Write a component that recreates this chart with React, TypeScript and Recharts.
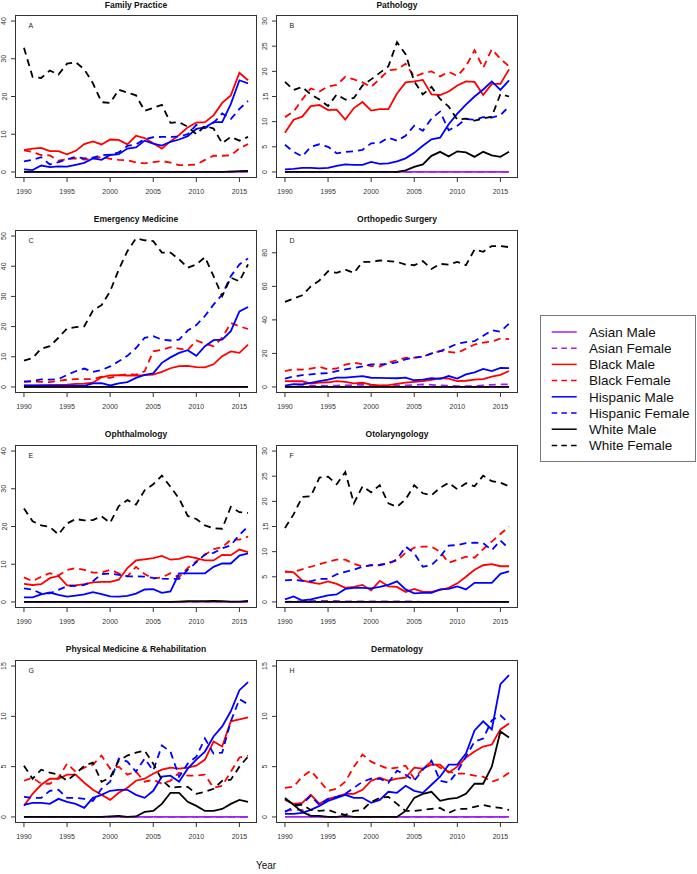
import { LineChart, Line, XAxis, YAxis } from 'recharts';

const FONT = '"Liberation Sans", Arial, sans-serif';

// years on the x axis
const YEARS = [1990, 1991, 1992, 1993, 1994, 1995, 1996, 1997, 1998, 1999, 2000, 2001, 2002, 2003, 2004, 2005, 2006, 2007, 2008, 2009, 2010, 2011, 2012, 2013, 2014, 2015, 2016];
const X_TICKS = [1990, 1995, 2000, 2005, 2010, 2015];

const ZERO = [0, 0, 0, 0, 0, 0, 0, 0, 0, 0, 0, 0, 0, 0, 0, 0, 0, 0, 0, 0, 0, 0, 0, 0, 0, 0, 0];

// A - Family Practice
const A_AF = [0, 0, 0, 0, 0, 0, 0, 0, 0, 0, 0, 0, 0, 0, 0, 0, 0, 0, 0, 0, 0, 0, 0, 0, 0.1, 0.1, 0.2];
const A_BM = [5.8, 6.2, 6.4, 5.5, 5.5, 4.7, 5.6, 7.4, 8.1, 7.3, 8.6, 8.5, 7.3, 9.6, 9.0, 7.6, 6.2, 8.1, 9.8, 11.8, 13.1, 13.2, 15.0, 18.3, 20.3, 26.3, 24.3];
const A_BF = [5.7, 5.3, 4.5, 4.4, 3.0, 3.4, 3.6, 3.3, 3.5, 4.0, 3.5, 3.2, 3.1, 2.5, 2.3, 2.6, 2.9, 2.5, 1.8, 1.8, 2.0, 3.2, 4.3, 4.3, 4.4, 6.2, 7.4];
const A_HM = [0.7, 0.5, 1.7, 1.3, 1.5, 1.4, 1.9, 2.4, 3.6, 3.2, 4.5, 4.7, 6.2, 6.5, 8.3, 7.5, 7.0, 8.0, 8.6, 9.5, 11.4, 11.8, 13.2, 13.2, 18.0, 24.3, 23.5];
const A_HF = [2.8, 3.2, 3.9, 2.0, 2.6, 3.3, 4.0, 3.6, 3.8, 4.4, 4.6, 5.2, 6.9, 7.3, 8.7, 9.2, 9.3, 9.3, 9.4, 10.0, 12.5, 11.6, 13.0, 15.5, 14.0, 16.7, 18.8];
const A_WM = [0, 0, 0, 0, 0, 0, 0, 0, 0, 0, 0, 0, 0, 0, 0, 0, 0, 0, 0, 0, 0, 0, 0, 0, 0.1, 0.2, 0.3];
const A_WF = [32.9, 25.2, 24.9, 26.9, 25.8, 28.7, 29.1, 27.2, 23.5, 18.5, 18.3, 21.8, 21.0, 20.3, 16.2, 17.0, 17.8, 13.0, 13.2, 12.0, 10.0, 12.2, 11.5, 7.6, 9.3, 8.3, 9.3];

// B - Pathology
const B_BM = [7.8, 10.4, 11.0, 13.1, 13.3, 12.3, 12.4, 10.4, 12.7, 13.9, 12.2, 12.5, 12.5, 15.6, 17.8, 18.0, 18.3, 15.4, 15.3, 16.0, 17.2, 18.0, 17.9, 15.3, 17.5, 17.5, 20.4];
const B_BF = [10.9, 12.0, 14.4, 16.6, 16.0, 17.0, 17.3, 18.9, 18.4, 17.8, 16.9, 18.5, 20.2, 20.4, 21.5, 18.9, 19.6, 20.0, 19.0, 19.9, 19.1, 21.0, 24.2, 20.7, 24.4, 22.5, 21.0];
const B_HM = [0.5, 0.6, 0.8, 0.8, 0.7, 0.8, 1.2, 1.5, 1.4, 1.4, 2.0, 1.6, 1.7, 2.1, 2.7, 3.8, 5.2, 6.5, 6.8, 9.5, 11.6, 13.4, 15.0, 16.4, 18.0, 16.3, 18.2];
const B_HF = [5.4, 4.0, 3.1, 5.0, 5.5, 5.0, 3.7, 4.0, 4.1, 4.4, 5.7, 5.8, 6.8, 6.2, 7.2, 9.2, 8.2, 10.6, 12.0, 8.3, 9.2, 10.5, 10.4, 10.9, 10.8, 11.3, 13.0];
const B_WM = [0, 0, 0, 0, 0, 0, 0, 0, 0, 0, 0, 0, 0, 0, 0.3, 1.0, 1.5, 3.2, 4.0, 3.1, 4.1, 3.9, 3.0, 4.0, 3.3, 3.0, 4.0];
const B_WF = [17.9, 16.3, 16.9, 15.4, 14.4, 13.1, 15.4, 14.4, 14.7, 17.2, 18.4, 19.7, 21.0, 25.8, 23.4, 18.0, 15.4, 16.9, 14.5, 13.0, 10.4, 10.6, 10.2, 10.6, 11.0, 15.5, 15.0];

// C - Emergency Medicine
const C_BM = [0.4, 0.4, 0.5, 0.6, 0.7, 0.8, 1.0, 1.1, 1.4, 3.2, 3.8, 3.9, 3.8, 3.8, 3.9, 4.1, 5.0, 6.2, 6.9, 7.0, 6.6, 6.5, 7.5, 10.2, 11.8, 11.3, 14.0];
const C_BF = [1.8, 1.8, 1.7, 1.6, 2.0, 2.4, 2.6, 2.6, 2.6, 3.4, 3.0, 3.8, 4.2, 4.1, 5.2, 11.8, 12.3, 13.2, 12.7, 12.2, 15.4, 14.3, 13.5, 16.3, 21.2, 20.1, 19.2];
const C_HM = [0.5, 0.5, 0.5, 0.5, 0.4, 0.4, 0.4, 0.4, 1.2, 1.3, 0.5, 1.2, 1.6, 3.0, 4.0, 4.5, 8.0, 9.8, 11.3, 12.2, 10.3, 13.5, 15.5, 15.7, 18.5, 25.0, 26.5];
const C_HF = [1.8, 2.0, 2.5, 2.4, 2.6, 4.0, 5.2, 6.1, 5.0, 5.6, 6.8, 8.5, 10.3, 12.9, 16.3, 16.8, 15.7, 15.4, 15.7, 18.7, 20.5, 23.5, 27.3, 30.6, 36.7, 40.6, 42.6];
const C_WF = [8.7, 9.6, 12.7, 13.5, 16.3, 19.4, 19.8, 20.1, 25.3, 27.1, 31.7, 38.9, 45.0, 49.2, 48.6, 48.3, 44.5, 44.5, 42.3, 39.5, 40.6, 43.0, 36.7, 30.1, 36.2, 35.0, 40.6];

// D - Orthopedic Surgery
const D_AF = [0, 0.3, 0.5, 0.7, 0.8, 0.7, 0.8, 1.0, 1.2, 1.2, 1.0, 0.8, 0.8, 1.0, 1.0, 1.2, 1.5, 1.3, 1.0, 0.8, 0.5, 0.5, 0.5, 1.0, 1.3, 1.5, 1.5];
const D_BM = [3.5, 3.4, 3.4, 2.0, 2.6, 2.8, 3.5, 3.0, 2.1, 2.5, 1.4, 1.0, 1.1, 1.8, 2.6, 3.0, 3.5, 4.3, 5.3, 5.0, 3.5, 3.7, 4.4, 4.7, 6.2, 7.2, 9.5];
const D_BF = [9.5, 10.5, 10.3, 11.0, 12.0, 10.5, 11.0, 13.3, 14.5, 13.5, 12.5, 12.2, 14.5, 16.0, 17.4, 17.5, 18.2, 19.8, 21.5, 20.9, 20.3, 22.8, 25.3, 26.5, 27.0, 28.8, 28.5];
const D_HM = [0.8, 1.7, 1.5, 2.5, 3.5, 4.4, 5.6, 5.6, 6.0, 6.5, 5.5, 5.4, 5.3, 5.2, 5.6, 4.0, 4.4, 5.2, 4.8, 6.5, 5.0, 7.5, 8.7, 10.8, 9.5, 11.3, 11.2];
const D_HF = [5.0, 6.2, 7.0, 7.5, 8.0, 8.3, 9.5, 10.5, 11.3, 12.3, 13.5, 13.5, 13.6, 14.8, 16.5, 17.5, 18.0, 20.0, 21.3, 23.5, 25.8, 26.8, 27.3, 30.5, 33.8, 33.0, 37.7];
const D_WF = [50.7, 52.7, 54.7, 60.0, 63.5, 69.0, 68.0, 70.0, 68.0, 74.6, 74.6, 75.4, 75.0, 74.6, 73.0, 72.6, 75.0, 70.4, 73.4, 73.0, 74.6, 72.6, 82.0, 80.6, 84.0, 84.0, 83.4];

// E - Ophthalmology
const E_BM = [4.8, 4.5, 4.7, 6.3, 6.9, 4.4, 4.4, 4.7, 5.2, 5.3, 5.3, 5.9, 9.0, 11.0, 11.3, 11.6, 12.2, 11.2, 11.4, 12.1, 11.6, 11.0, 11.0, 12.5, 12.4, 13.9, 13.2];
const E_BF = [6.5, 5.5, 6.7, 7.6, 7.0, 8.5, 9.0, 8.5, 7.8, 7.8, 8.5, 7.6, 6.8, 9.3, 7.4, 6.2, 6.5, 7.6, 6.6, 9.0, 10.8, 12.5, 14.0, 14.5, 16.5, 16.5, 17.3];
const E_HM = [1.2, 1.2, 2.0, 2.5, 1.9, 1.4, 1.7, 2.0, 2.6, 2.1, 1.5, 1.4, 1.6, 2.2, 3.3, 3.4, 2.4, 2.8, 7.6, 7.6, 7.6, 7.6, 9.3, 10.2, 10.2, 12.3, 12.9];
const E_HF = [3.6, 3.3, 2.2, 2.3, 3.2, 4.2, 4.3, 4.5, 5.5, 7.4, 7.5, 7.2, 6.8, 6.8, 6.7, 6.4, 6.2, 6.1, 6.1, 8.5, 10.5, 12.6, 13.0, 14.2, 15.0, 17.8, 20.0];
const E_WM = [0, 0, 0, 0, 0, 0, 0, 0, 0, 0, 0, 0, 0, 0, 0, 0, 0, 0, 0.1, 0.2, 0.2, 0.2, 0.3, 0.2, 0.1, 0.1, 0.3];
const E_WF = [24.8, 21.4, 20.3, 19.9, 17.9, 20.8, 22.0, 21.6, 21.7, 22.7, 21.0, 25.4, 27.0, 25.8, 29.6, 31.2, 33.5, 30.5, 27.4, 22.8, 22.0, 20.3, 19.5, 19.4, 25.2, 23.8, 23.6];

// F - Otolaryngology
const F_AF = [0, 0.1, 0.1, 0.2, 0.2, 0.2, 0.2, 0.1, 0.1, 0.1, 0.1, 0.1, 0.1, 0.1, 0.1, 0.1, 0, 0, 0, 0, 0, 0, 0, 0, 0, 0, 0];
const F_BM = [6.1, 5.9, 4.3, 3.9, 3.6, 4.1, 3.6, 2.8, 3.0, 3.4, 2.3, 4.2, 3.1, 3.0, 2.0, 2.6, 2.0, 2.0, 2.4, 2.8, 3.7, 5.0, 6.4, 7.3, 7.5, 7.1, 7.1];
const F_BF = [6.0, 6.0, 6.5, 7.0, 7.5, 8.0, 8.4, 8.4, 7.6, 7.0, 7.3, 7.3, 7.8, 8.2, 9.8, 10.8, 11.0, 11.0, 10.0, 7.8, 8.4, 9.0, 8.8, 10.5, 12.0, 13.5, 15.0];
const F_HM = [0.5, 1.1, 0.3, 0.5, 0.9, 1.3, 1.5, 2.6, 2.8, 2.8, 2.7, 3.0, 3.4, 4.1, 2.5, 1.7, 1.8, 1.8, 2.5, 2.6, 3.1, 2.5, 3.8, 3.8, 3.8, 5.6, 6.1];
const F_HF = [4.3, 4.4, 4.2, 4.1, 4.6, 4.6, 5.5, 6.0, 6.4, 7.0, 7.3, 7.4, 7.6, 8.5, 11.0, 9.7, 7.0, 7.3, 9.0, 11.2, 11.3, 11.7, 11.8, 11.7, 10.3, 12.2, 10.6];
const F_WF = [14.7, 17.4, 20.9, 21.0, 24.7, 24.9, 23.4, 25.8, 19.6, 23.0, 21.8, 23.2, 19.6, 18.9, 20.4, 23.2, 21.6, 21.2, 22.7, 23.7, 22.4, 23.6, 23.0, 25.1, 24.0, 23.7, 23.0];

// G - Physical Medicine & Rehabilitation
const G_BM = [1.1, 2.3, 3.2, 3.8, 3.8, 4.2, 4.2, 3.4, 2.7, 2.2, 1.7, 2.4, 2.9, 3.6, 3.8, 4.3, 4.7, 4.9, 4.8, 4.9, 5.1, 5.7, 7.5, 7.0, 9.5, 9.7, 9.9];
const G_BF = [3.6, 3.9, 3.3, 3.3, 3.9, 5.3, 4.5, 4.9, 5.2, 6.1, 4.8, 5.0, 4.2, 4.5, 3.5, 3.7, 3.3, 3.6, 4.4, 4.1, 4.1, 4.2, 2.9, 3.1, 4.5, 5.9, 6.1];
const G_HM = [1.2, 1.4, 1.4, 1.3, 1.8, 1.5, 1.3, 0.9, 1.9, 2.2, 2.6, 2.7, 2.7, 2.2, 1.9, 2.6, 4.0, 4.1, 3.5, 4.8, 5.7, 6.5, 8.0, 9.0, 10.5, 12.6, 13.4];
const G_HF = [2.0, 1.9, 1.9, 2.6, 2.7, 1.9, 1.9, 1.8, 1.6, 2.8, 3.5, 5.8, 5.5, 4.5, 5.8, 4.6, 7.1, 6.5, 4.0, 5.3, 6.0, 7.8, 6.3, 6.4, 9.5, 11.7, 11.2];
const G_WM = [0, 0, 0, 0, 0, 0, 0, 0, 0, 0, 0.05, 0.1, 0, 0.05, 0.5, 0.6, 1.3, 2.4, 2.4, 1.5, 1.1, 0.6, 0.6, 0.8, 1.3, 1.7, 1.5];
const G_WF = [5.1, 3.8, 4.7, 4.4, 4.2, 3.6, 4.3, 5.1, 5.4, 3.5, 3.9, 5.6, 6.1, 6.4, 6.6, 5.3, 3.7, 2.9, 3.0, 3.0, 2.3, 2.5, 2.8, 3.6, 3.7, 5.0, 6.0];

// H - Dermatology
const H_AF = [0.6, 0.7, 0.7, 0.1, 0, 0, 0, 0, 0, 0, 0, 0, 0, 0, 0, 0, 0, 0, 0, 0, 0, 0, 0, 0, 0, 0, 0];
const H_BM = [1.7, 1.3, 1.4, 2.2, 1.3, 1.8, 2.0, 2.3, 2.3, 2.7, 3.6, 3.9, 3.6, 3.8, 3.9, 4.9, 4.8, 5.2, 5.2, 4.4, 5.0, 5.9, 6.5, 7.0, 7.2, 8.7, 9.3];
const H_BF = [2.9, 3.0, 4.0, 4.6, 3.6, 2.6, 2.8, 3.5, 5.0, 6.2, 5.5, 5.1, 4.8, 4.9, 5.1, 3.8, 4.8, 5.5, 4.9, 4.5, 4.3, 4.3, 4.1, 4.0, 3.5, 3.8, 4.4];
const H_HM = [0.3, 0.3, 0.4, 0.7, 1.1, 1.6, 1.9, 2.2, 1.9, 1.9, 1.4, 1.7, 2.5, 2.4, 3.1, 2.6, 2.4, 3.2, 4.0, 5.2, 5.2, 6.3, 8.6, 9.5, 8.7, 13.2, 14.1];
const H_HF = [0.5, 1.0, 1.3, 2.1, 1.2, 1.8, 2.0, 2.3, 2.9, 3.5, 3.8, 3.8, 3.4, 4.6, 4.2, 3.6, 4.7, 5.6, 3.6, 3.4, 4.5, 6.0, 7.5, 7.8, 9.6, 10.1, 9.3];
const H_WM = [1.9, 1.2, 0.5, 0.1, 0.1, 0, 0, 0.1, 0, 0, 0, 0, 0, 0, 0.6, 1.9, 2.3, 2.5, 1.6, 1.8, 1.9, 2.3, 3.3, 3.3, 5.0, 8.5, 7.9];
const H_WF = [1.8, 1.2, 1.2, 0.7, 0.6, 0.7, 0.4, 0.2, 0.6, 0.7, 1.5, 1.9, 2.0, 1.3, 0.6, 0.6, 0.7, 0.8, 0.9, 0.4, 0.8, 0.8, 1.0, 1.2, 1.0, 0.9, 0.7];

// y tick labels per panel
const TICKS_40 = [0, 10, 20, 30, 40];
const TICKS_30 = [0, 5, 10, 15, 20, 25, 30];
const TICKS_50 = [0, 10, 20, 30, 40, 50];
const TICKS_80 = [0, 20, 40, 60, 80];
const TICKS_15 = [0, 5, 10, 15];

const SERIES = [
  { name: 'Asian Male', color: '#A020F0', dashed: false },
  { name: 'Asian Female', color: '#A020F0', dashed: true },
  { name: 'Black Male', color: '#FF0000', dashed: false },
  { name: 'Black Female', color: '#FF0000', dashed: true },
  { name: 'Hispanic Male', color: '#0000FF', dashed: false },
  { name: 'Hispanic Female', color: '#0000FF', dashed: true },
  { name: 'White Male', color: '#000000', dashed: false },
  { name: 'White Female', color: '#000000', dashed: true },
];

const PANELS = [
  { letter: 'A', title: 'Family Practice', max: 40, ticks: TICKS_40, col: 0, row: 0, values: [ZERO, A_AF, A_BM, A_BF, A_HM, A_HF, A_WM, A_WF] },
  { letter: 'B', title: 'Pathology', max: 30, ticks: TICKS_30, col: 1, row: 0, values: [ZERO, ZERO, B_BM, B_BF, B_HM, B_HF, B_WM, B_WF] },
  { letter: 'C', title: 'Emergency Medicine', max: 50, ticks: TICKS_50, col: 0, row: 1, values: [ZERO, ZERO, C_BM, C_BF, C_HM, C_HF, ZERO, C_WF] },
  { letter: 'D', title: 'Orthopedic Surgery', max: 90, ticks: TICKS_80, col: 1, row: 1, values: [ZERO, D_AF, D_BM, D_BF, D_HM, D_HF, ZERO, D_WF] },
  { letter: 'E', title: 'Ophthalmology', max: 40, ticks: TICKS_40, col: 0, row: 2, values: [ZERO, ZERO, E_BM, E_BF, E_HM, E_HF, E_WM, E_WF] },
  { letter: 'F', title: 'Otolaryngology', max: 30, ticks: TICKS_30, col: 1, row: 2, values: [ZERO, F_AF, F_BM, F_BF, F_HM, F_HF, ZERO, F_WF] },
  { letter: 'G', title: 'Physical Medicine & Rehabilitation', max: 15, ticks: TICKS_15, col: 0, row: 3, values: [ZERO, ZERO, G_BM, G_BF, G_HM, G_HF, G_WM, G_WF] },
  { letter: 'H', title: 'Dermatology', max: 15, ticks: TICKS_15, col: 1, row: 3, values: [ZERO, H_AF, H_BM, H_BF, H_HM, H_HF, H_WM, H_WF] },
];

// layout (px)
const CHART_W = 262;
const CHART_H = 208;
const TOP_PAD = 15;
const X_AXIS_H = 30;
const ROW_STEP = 215;
const COLS = [
  { left: 0, yWidth: 15, right: 5 },
  { left: 258, yWidth: 18, right: 2 },
];
const PLOT_H = CHART_H - TOP_PAD - X_AXIS_H;

function YTick(props: any) {
  const { x, y, payload } = props;
  return (
    <text x={x} y={y} transform={`rotate(-90 ${x} ${y})`} textAnchor="middle" fontSize={7} fill="#333" fontFamily={FONT}>
      {payload.value}
    </text>
  );
}

function Panel({ panel }: { panel: (typeof PANELS)[number] }) {
  const col = COLS[panel.col];
  const top = panel.row * ROW_STEP;
  const plotLeft = col.left + col.yWidth;
  const plotW = CHART_W - col.yWidth - col.right;
  const plotTop = top + TOP_PAD;
  const pad = 0.04 * panel.max;

  const rows = YEARS.map((year, i) => {
    const row: Record<string, number> = { year };
    panel.values.forEach((arr, k) => {
      row[`s${k}`] = arr[i];
    });
    return row;
  });

  return (
    <>
      <div style={{ position: 'absolute', left: col.left, top }}>
        <LineChart width={CHART_W} height={CHART_H} data={rows} margin={{ top: TOP_PAD, right: col.right, bottom: 0, left: 0 }}>
          <XAxis
            dataKey="year"
            type="number"
            domain={[1990 - 0.04 * 26, 2016 + 0.04 * 26]}
            ticks={X_TICKS}
            allowDataOverflow
            height={X_AXIS_H}
            axisLine={false}
            tickLine={{ stroke: '#333' }}
            tickSize={4}
            tickMargin={7}
            tick={{ fontSize: 7, fill: '#333', fontFamily: FONT }}
            interval={0}
          />
          <YAxis
            type="number"
            domain={[-pad, panel.max + pad]}
            ticks={panel.ticks}
            allowDataOverflow
            width={col.yWidth}
            axisLine={false}
            tickLine={{ stroke: '#333' }}
            tickSize={4}
            tickMargin={4.5}
            tick={<YTick />}
            interval={0}
          />
          {SERIES.map((s, k) => (
            <Line
              key={s.name}
              dataKey={`s${k}`}
              type="linear"
              stroke={s.color}
              strokeWidth={1.8}
              strokeDasharray={s.dashed ? '7 5' : undefined}
              dot={false}
              activeDot={false}
              isAnimationActive={false}
            />
          ))}
        </LineChart>
      </div>
      <div
        style={{
          position: 'absolute',
          left: plotLeft,
          top: plotTop,
          width: plotW,
          height: PLOT_H,
          boxSizing: 'border-box',
          border: '1px solid #333',
          pointerEvents: 'none',
        }}
      />
      <div
        style={{
          position: 'absolute',
          left: plotLeft,
          top: Math.max(0, plotTop - 16.5),
          width: plotW,
          textAlign: 'center',
          fontSize: 8.5,
          lineHeight: '10px',
          fontWeight: 'bold',
          fontFamily: FONT,
          color: '#111',
          whiteSpace: 'nowrap',
        }}
      >
        {panel.title}
      </div>
      <div
        style={{
          position: 'absolute',
          left: plotLeft + 13.5,
          top: plotTop + 6.5,
          fontSize: 7,
          lineHeight: '7px',
          fontFamily: FONT,
          color: '#222',
        }}
      >
        {panel.letter}
      </div>
    </>
  );
}

function Legend() {
  const rowY = (i: number) => 17 + i * 16.2;
  return (
    <svg style={{ position: 'absolute', left: 540, top: 315 }} width={157} height={148}>
      <rect x={0.5} y={0.5} width={155} height={146} fill="#fff" stroke="#777" strokeWidth={1} />
      {SERIES.map((s, i) => (
        <g key={s.name}>
          <line
            x1={11.7}
            x2={36.7}
            y1={rowY(i)}
            y2={rowY(i)}
            stroke={s.color}
            strokeWidth={1.5}
            strokeDasharray={s.dashed ? '5.5 4.2' : undefined}
          />
          <text x={49} y={rowY(i) + 4.8} fontSize={13.5} fontFamily={FONT} fill="#111">
            {s.name}
          </text>
        </g>
      ))}
    </svg>
  );
}

export default function App() {
  return (
    <div style={{ position: 'absolute', left: 0, top: 0, width: 697, height: 874, background: '#fff', overflow: 'hidden', fontFamily: FONT }}>
      {PANELS.map((p) => (
        <Panel key={p.letter} panel={p} />
      ))}
      <Legend />
      <div style={{ position: 'absolute', left: 236, top: 860, width: 60, textAlign: 'center', fontSize: 10, lineHeight: '12px', fontFamily: FONT, color: '#111' }}>
        Year
      </div>
    </div>
  );
}
